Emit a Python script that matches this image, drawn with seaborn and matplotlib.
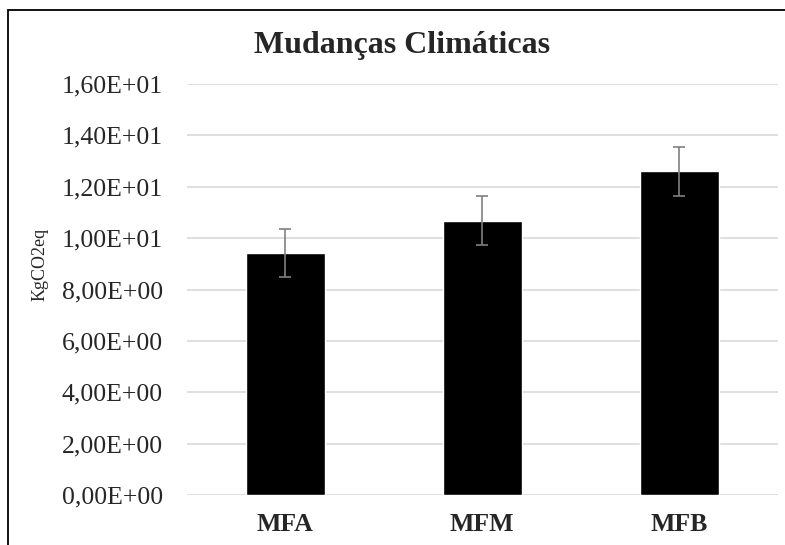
import matplotlib
matplotlib.use("Agg")
import matplotlib.pyplot as plt
import seaborn as sns
import pandas as pd
from matplotlib.patches import Rectangle
from matplotlib.ticker import FuncFormatter

# Dados
categorias = ["MFA", "MFM", "MFB"]
valores = [9.42, 10.68, 12.60]
erros = [0.95, 0.95, 0.95]

df = pd.DataFrame({"cenario": categorias, "valor": valores})

sns.set_style("white")
plt.rcParams["font.family"] = ["Liberation Serif", "DejaVu Serif"]

fig = plt.figure(figsize=(7.85, 5.45), dpi=100)
ax = fig.add_axes([186.5 / 785, 1 - 495 / 545, (778 - 186.5) / 785, (495 - 84) / 545])

sns.barplot(data=df, x="cenario", y="valor", color="black", width=0.4,
            errorbar=None, saturation=1, ax=ax, zorder=3)
ax.errorbar(range(len(valores)), valores, yerr=erros, fmt="none",
            ecolor="#808080", elinewidth=1.2, capsize=4, capthick=1.2, zorder=4)

ax.set_xlim(-0.5, len(categorias) - 0.5)
ax.set_ylim(0, 16)
ax.set_yticks(range(0, 17, 2))
ax.yaxis.set_major_formatter(FuncFormatter(lambda v, p: f"{v / 10:.2f}E+01".replace(".", ",") if v >= 10 else f"{v:.2f}E+00".replace(".", ",")))
ax.grid(axis="y", color="#d9d9d9", linewidth=1.2, zorder=0)
ax.set_axisbelow(True)
for s in ax.spines.values():
    s.set_visible(False)
ax.tick_params(axis="y", length=0, pad=17, labelsize=18.5)
ax.tick_params(axis="x", length=0, pad=13, labelsize=18.5)
for lbl in ax.get_xticklabels():
    lbl.set_fontweight("bold")
ax.set_xlabel("")
ax.set_ylabel("")

fig.text(40 / 785, 1 - 264 / 545, "KgCO2eq", rotation=90, fontsize=13,
         ha="center", va="center")
fig.text(402 / 785, 1 - 46 / 545, "Mudanças Climáticas", fontsize=23,
         fontweight="bold", ha="center", va="center")

# moldura da area do grafico (cortada a direita e embaixo)
fig.patches.append(Rectangle((8 / 785, -0.1), 1.2, 1.1 - 10 / 545,
                             transform=fig.transFigure, fill=False,
                             edgecolor="black", linewidth=1.3))

fig.savefig("out.png", dpi=100)
